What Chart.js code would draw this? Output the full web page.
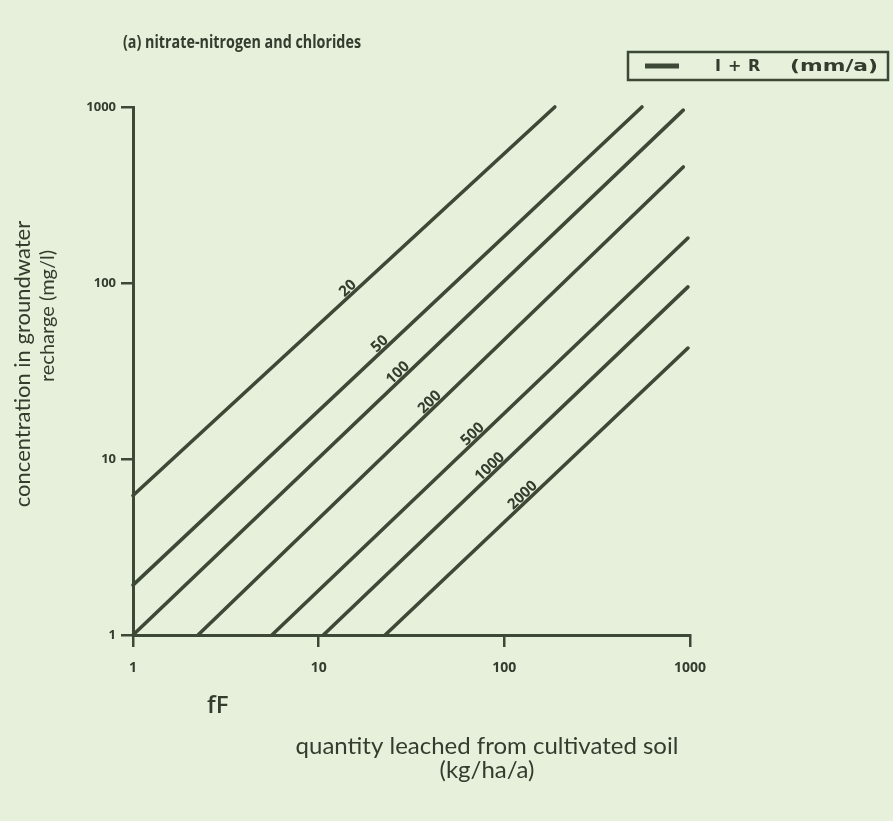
<!DOCTYPE html>
<html><head><meta charset="utf-8">
<script src="https://cdn.jsdelivr.net/npm/chart.js@4"></script>
<style>html,body{margin:0;padding:0;background:#e6f0da;}canvas{display:block}</style>
</head><body><canvas id="c" width="893" height="821"></canvas>
<script>
// I + R (mm/a) curves: concentration in groundwater recharge vs quantity leached
const rechargeLabels = ['20', '50', '100', '200', '500', '1000', '2000'];
const leachedStart = [1, 1, 1, 2.24, 5.6, 10.6, 22.8];
const concStart    = [6.2, 1.92, 1, 1, 1, 1, 1];
const leachedEnd   = [187, 551, 920, 920, 975, 975, 975];
const concEnd      = [1000, 1000, 960, 456, 180, 95, 42.7];
const labelAtLeached = [15.2, 22.6, 28.3, 42, 71.5, 88.5, 133];
const xTicks = [1, 10, 100, 1000];
const yTicks = [1, 10, 100, 1000];

const LINE = '#3e4836';
const TEXT = '#343c2e';
const BG = '#e6f0da';

Chart.defaults.font.family = '"Open Sans", sans-serif';

const datasets = rechargeLabels.map((lab, i) => ({
  label: lab,
  data: [{x: leachedStart[i], y: concStart[i]}, {x: leachedEnd[i], y: concEnd[i]}],
  borderColor: LINE, borderWidth: 3.6, pointRadius: 0, fill: false,
  borderCapStyle: 'round', clip: 12
}));

const bg = {
  id: 'bg',
  beforeDraw(chart) {
    const c = chart.ctx; c.save(); c.fillStyle = BG; c.fillRect(0, 0, chart.width, chart.height); c.restore();
  }
};

function fitText(ctx, txt, x, y, w) {
  const m = ctx.measureText(txt).width;
  ctx.save(); ctx.translate(x, y); ctx.scale(w / m, 1); ctx.fillText(txt, 0, 0); ctx.restore();
}

const annot = {
  id: 'annot',
  afterDraw(chart) {
    const {ctx, scales: {x, y}} = chart;
    ctx.save();
    ctx.fillStyle = TEXT;
    // line labels
    rechargeLabels.forEach((lab, i) => {
      const xs = Math.log10(leachedStart[i]), xe = Math.log10(leachedEnd[i]);
      const ys = Math.log10(concStart[i]), ye = Math.log10(concEnd[i]);
      const t = (Math.log10(labelAtLeached[i]) - xs) / (xe - xs);
      const ly = Math.pow(10, ys + t * (ye - ys));
      const px = x.getPixelForValue(labelAtLeached[i]), py = y.getPixelForValue(ly);
      const ang = Math.atan2(y.getPixelForValue(concEnd[i]) - y.getPixelForValue(concStart[i]),
                             x.getPixelForValue(leachedEnd[i]) - x.getPixelForValue(leachedStart[i]));
      ctx.save(); ctx.translate(px, py); ctx.rotate(ang);
      ctx.font = 'bold 15px "Open Sans"'; ctx.textAlign = 'center'; ctx.textBaseline = 'alphabetic';
      ctx.fillText(lab, 0, -2.5);
      ctx.restore();
    });
    // title
    ctx.font = 'bold 17px "Open Sans"'; ctx.textAlign = 'left'; ctx.textBaseline = 'middle';
    fitText(ctx, '(a) nitrate-nitrogen and chlorides', 123, 43, 238);
    // legend box
    ctx.strokeStyle = LINE; ctx.lineWidth = 2.5;
    ctx.strokeRect(628, 52, 260, 28);
    ctx.lineWidth = 5; ctx.beginPath(); ctx.moveTo(645, 66); ctx.lineTo(679, 66); ctx.stroke();
    ctx.font = 'bold 16px "DejaVu Sans"'; ctx.textAlign = 'left';
    ctx.fillText('I', 715, 67);
    ctx.fillText('+', 728, 67);
    ctx.fillText('R', 748, 67);
    fitText(ctx, '(mm/a)', 790, 67, 88);
    // y axis title
    ctx.textAlign = 'center'; ctx.textBaseline = 'middle';
    ctx.font = '22px Lato';
    ctx.save(); ctx.translate(23, 364); ctx.rotate(-Math.PI / 2);
    ctx.fillText('concentration in groundwater', 0, 0); ctx.restore();
    ctx.font = '20px Lato';
    ctx.save(); ctx.translate(48, 316); ctx.rotate(-Math.PI / 2);
    ctx.fillText('recharge (mg/l)', 0, 0); ctx.restore();
    // x axis title
    ctx.font = '24px Lato';
    ctx.fillText('quantity leached from cultivated soil', 487, 746);
    ctx.fillText('(kg/ha/a)', 487, 770);
    ctx.font = '600 24px "Open Sans"'; ctx.textAlign = 'left';
    ctx.fillText('fF', 207, 706);
    ctx.restore();
  }
};

new Chart(document.getElementById('c'), {
  type: 'line',
  data: {datasets},
  plugins: [bg, annot],
  options: {
    responsive: false, animation: false,
    layout: {padding: {left: 0, right: 203, top: 107, bottom: 0}},
    plugins: {legend: {display: false}, tooltip: {enabled: false}, title: {display: false}},
    scales: {
      x: {
        type: 'logarithmic', min: 1, max: 1000,
        afterBuildTicks: s => { s.ticks = xTicks.map(v => ({value: v})); },
        afterFit: s => { s.height = 186; },
        ticks: {callback: v => String(v), color: TEXT, font: {size: 14, weight: 'bold'}, padding: 13, maxRotation: 0, autoSkip: false},
        grid: {drawOnChartArea: false, drawTicks: true, tickLength: 12, color: LINE, lineWidth: 2.5},
        border: {display: true, color: LINE, width: 3}
      },
      y: {
        type: 'logarithmic', min: 1, max: 1000,
        afterBuildTicks: s => { s.ticks = yTicks.map(v => ({value: v})); },
        afterFit: s => { s.width = 133; },
        ticks: {callback: v => String(v), color: TEXT, font: {size: 13, weight: 'bold'}, padding: 5, autoSkip: false},
        grid: {drawOnChartArea: false, drawTicks: true, tickLength: 12, color: LINE, lineWidth: 2.5},
        border: {display: true, color: LINE, width: 3}
      }
    }
  }
});
</script></body></html>
